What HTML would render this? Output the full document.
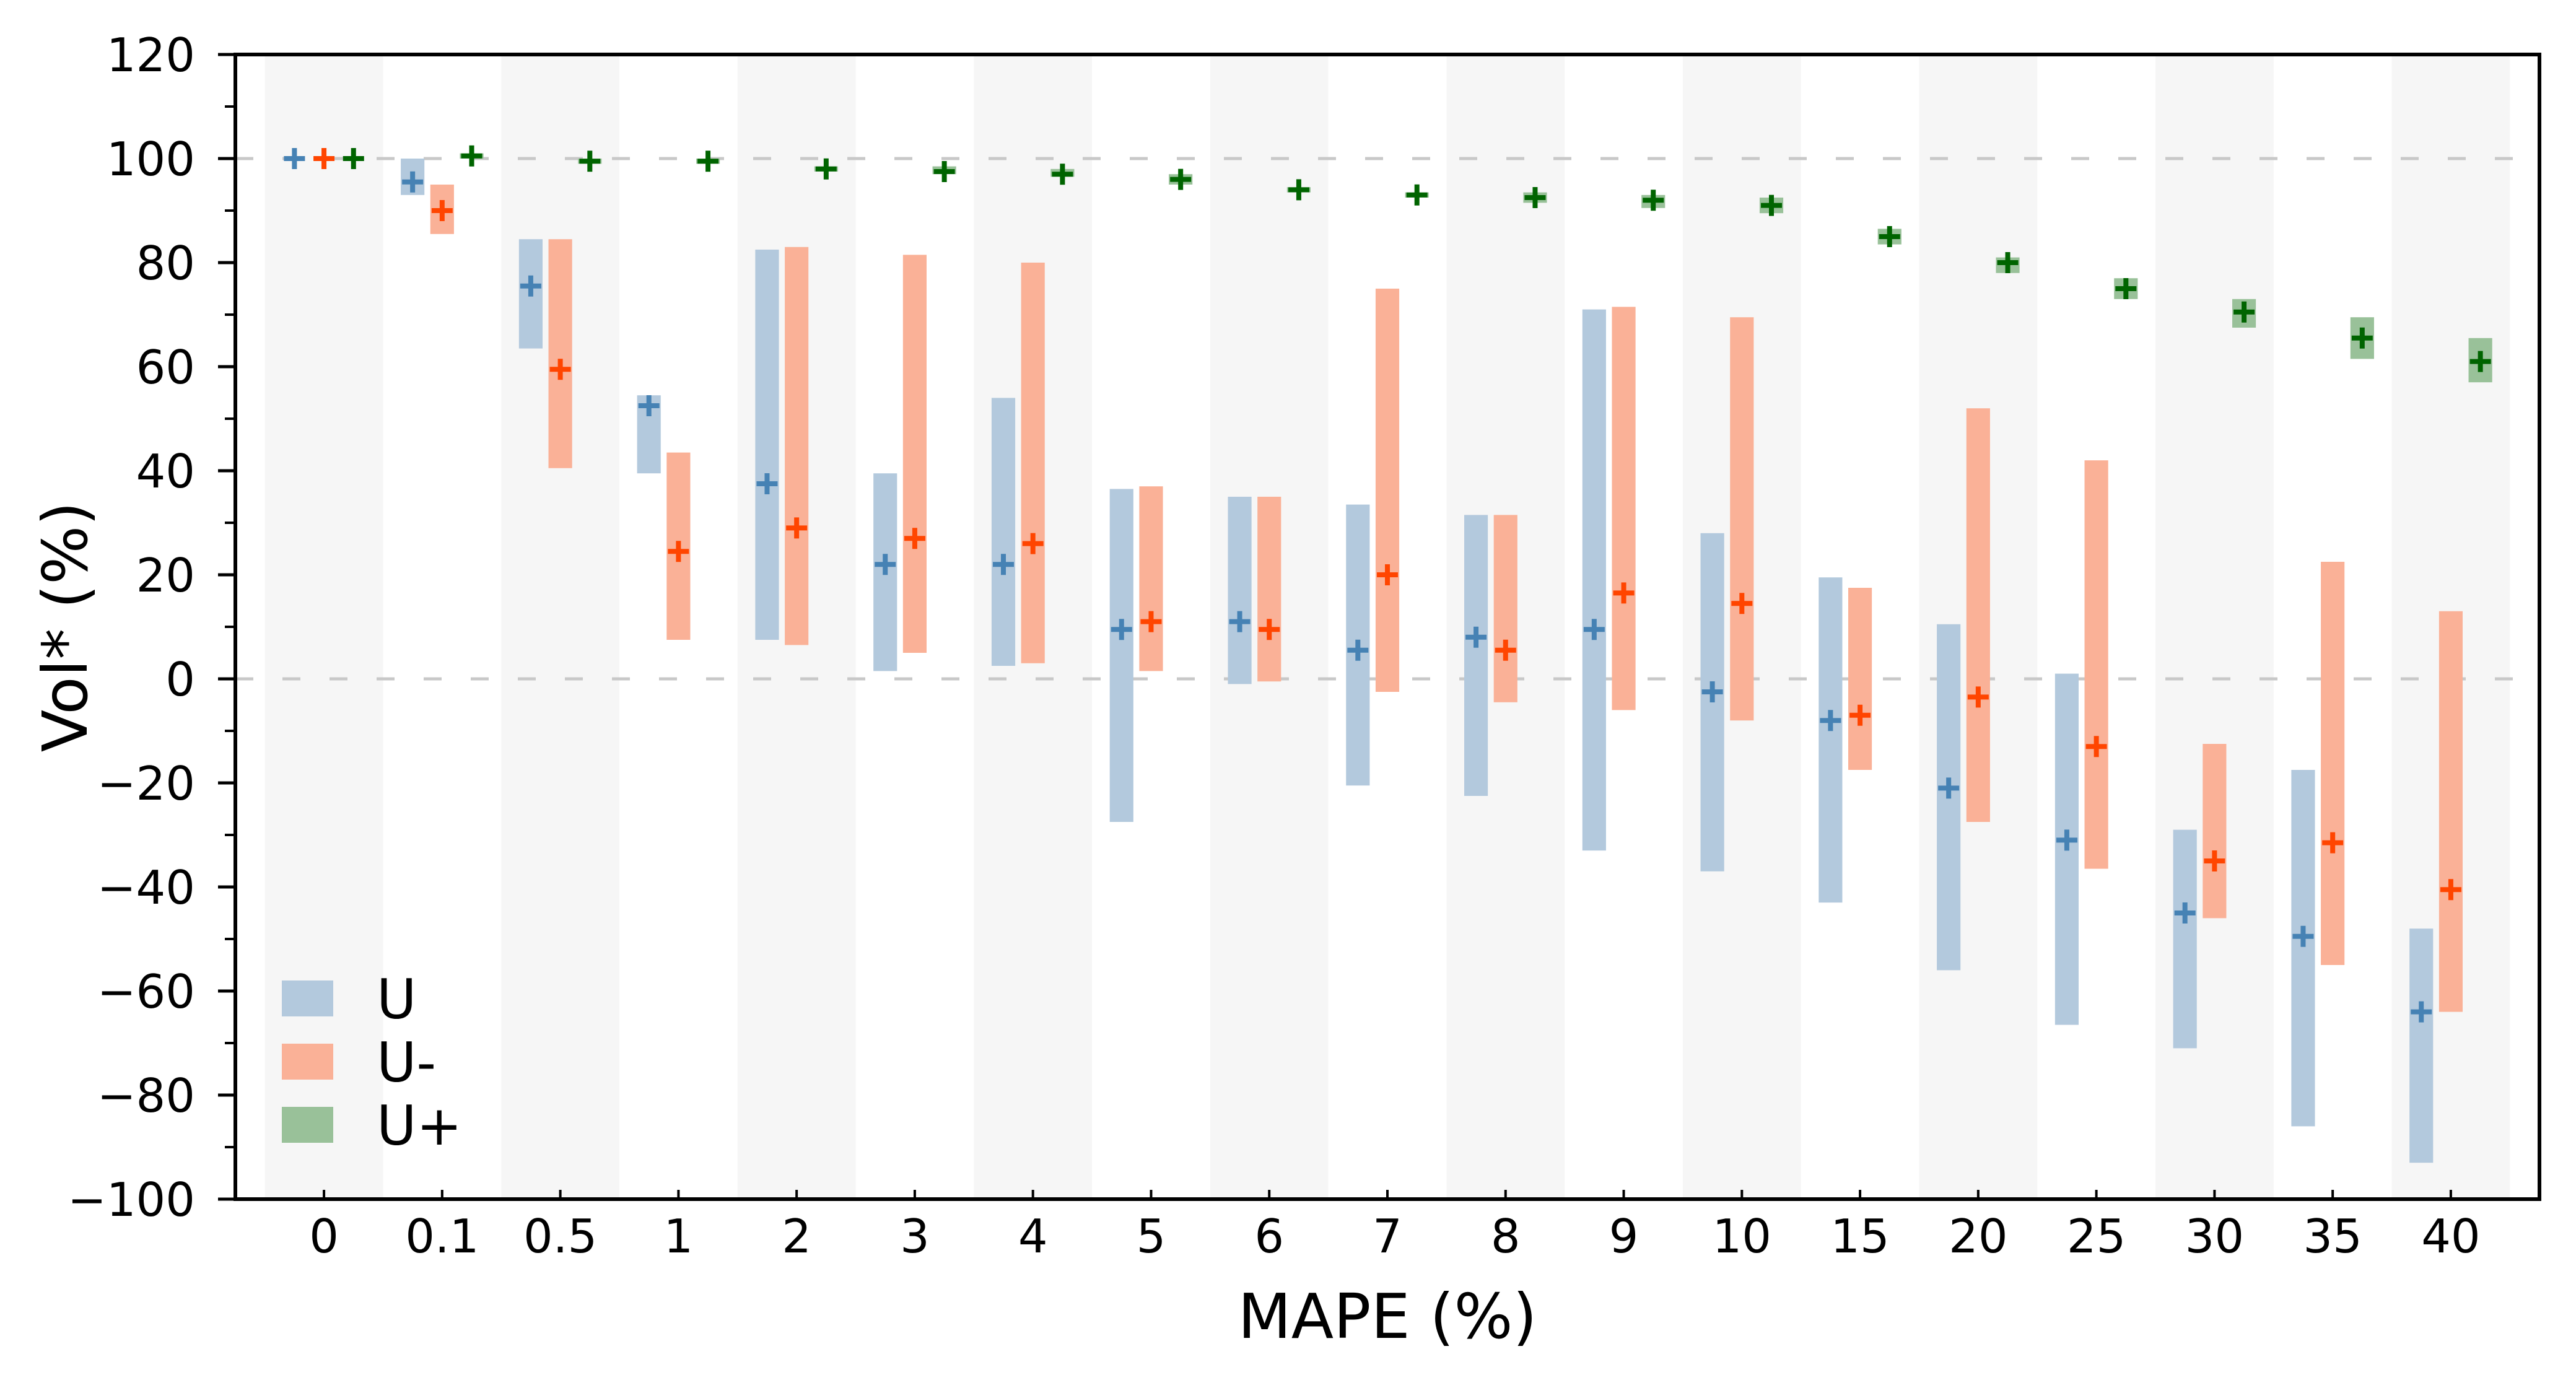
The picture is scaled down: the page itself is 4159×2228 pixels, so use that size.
<!DOCTYPE html>
<html><head><meta charset="utf-8"><style>
html,body{margin:0;padding:0;background:#fff;}
svg{display:block;font-family:"DejaVu Sans","Liberation Sans",sans-serif;}
</style></head><body>
<svg id="chart" width="4159" height="2228" viewBox="0 0 4159 2228" xmlns="http://www.w3.org/2000/svg"></svg>
<script>
const categories = ["0","0.1","0.5","1","2","3","4","5","6","7","8","9","10","15","20","25","30","35","40"];
const uMean = [100,95.5,75.5,52.5,37.5,22,22,9.5,11,5.5,8,9.5,-2.5,-8,-21,-31,-45,-49.5,-64];
const uLow  = [100,93,63.5,39.5,7.5,1.5,2.5,-27.5,-1,-20.5,-22.5,-33,-37,-43,-56,-66.5,-71,-86,-93];
const uHigh = [100,100,84.5,54.5,82.5,39.5,54,36.5,35,33.5,31.5,71,28,19.5,10.5,1,-29,-17.5,-48];
const umMean = [100,90,59.5,24.5,29,27,26,11,9.5,20,5.5,16.5,14.5,-7,-3.5,-13,-35,-31.5,-40.5];
const umLow  = [100,85.5,40.5,7.5,6.5,5,3,1.5,-0.5,-2.5,-4.5,-6,-8,-17.5,-27.5,-36.5,-46,-55,-64];
const umHigh = [100,95,84.5,43.5,83,81.5,80,37,35,75,31.5,71.5,69.5,17.5,52,42,-12.5,22.5,13];
const upMean = [100,100.5,99.5,99.5,98,97.5,97,96,94,93,92.5,92,91,85,80,75,70.5,65.5,61];
const upLow  = [100,100,99,99,97.5,97,96.5,95,93.5,92.5,91.5,90.5,89.5,83.5,78,73,67.5,61.5,57];
const upHigh = [100,101,100,100,98.5,98.5,98,97,94.5,93.5,93.5,93,92.5,86.5,81,77,73,69.5,65.5];
const yTicks = [-100,-80,-60,-40,-20,0,20,40,60,80,100,120];

const NS="http://www.w3.org/2000/svg";
const svg=document.getElementById('chart');
const L=380,R=4100,T=88,B=1936;
const xmin=-0.75,xmax=18.75,ymin=-100,ymax=120;
const xs=v=>L+(v-xmin)/(xmax-xmin)*(R-L);
const ys=v=>B-(v-ymin)/(ymax-ymin)*(B-T);
function mk(tag,attrs,parent){const e=document.createElementNS(NS,tag);for(const k in attrs)e.setAttribute(k,attrs[k]);(parent||svg).appendChild(e);return e;}

categories.forEach((c,i)=>{ if(i%2===0){
  const b=mk('rect',{x:xs(i-0.5),y:T,width:xs(i+0.5)-xs(i-0.5),height:B-T,fill:'#f6f6f6'});
  
  
}});
[0,100].forEach(v=>{
  const g=mk('line',{x1:L,x2:R,y1:ys(v),y2:ys(v),stroke:'#c8c8c8','stroke-width':5,'stroke-dasharray':'29 47'});
  
  
});
const series=[
 {name:'u',mean:uMean,lo:uLow,hi:uHigh,off:-0.25,fill:'#b3c9dd',mark:'#4682b4'},
 {name:'u-minus',mean:umMean,lo:umLow,hi:umHigh,off:0,fill:'#fab197',mark:'#ff4500'},
 {name:'u-plus',mean:upMean,lo:upLow,hi:upHigh,off:0.25,fill:'#99c199',mark:'#006400'}
];
const bw=0.2;
series.forEach(s=>{
  categories.forEach((c,i)=>{
    const x=i+s.off;
    const h=Math.abs(ys(s.lo[i])-ys(s.hi[i]));
    if(h>0.5){
      const r=mk('rect',{x:xs(x-bw/2),y:ys(s.hi[i]),width:xs(x+bw/2)-xs(x-bw/2),height:h,fill:s.fill});
      
      
    }
    const cx=xs(x),cy=ys(s.mean[i]);
    const p=mk('path',{d:`M${cx-17},${cy}H${cx+17}M${cx},${cy-17}V${cy+17}`,stroke:s.mark,'stroke-width':8,fill:'none'});
    
    
  });
});
const fr=mk('rect',{x:L,y:T,width:R-L,height:B-T,fill:'none',stroke:'#000','stroke-width':6});


yTicks.forEach(v=>{
  const t=mk('line',{x1:L-28,x2:L,y1:ys(v),y2:ys(v),stroke:'#000','stroke-width':5});
  
  
  const tx=mk('text',{x:315,y:ys(v)+27,'text-anchor':'end','font-size':75,fill:'#000'});
  tx.textContent=v<0?'\u2212'+Math.abs(v):String(v);
  
  
});
for(let v=-90;v<120;v+=20){
  const t=mk('line',{x1:L-17,x2:L,y1:ys(v),y2:ys(v),stroke:'#000','stroke-width':4});
  
  
}
categories.forEach((c,i)=>{
  const t=mk('line',{x1:xs(i),x2:xs(i),y1:B-15,y2:B,stroke:'#000','stroke-width':4});
  
  
  const tx=mk('text',{x:xs(i),y:2022,'text-anchor':'middle','font-size':75,fill:'#000'});
  tx.textContent=c;
  
  
});
const xl=mk('text',{x:(L+R)/2,y:2160,'text-anchor':'middle','font-size':100,fill:'#000'});
xl.textContent='MAPE (%)';


const yl=mk('text',{x:0,y:0,'text-anchor':'middle','font-size':100,fill:'#000',transform:`translate(140,${(T+B)/2}) rotate(-90)`});
yl.textContent='Vol* (%)';


const legendLabels=['U','U-','U+'];
const legendColors=['#b3c9dd','#fab197','#99c199'];
legendLabels.forEach((lab,i)=>{
  const cy=1612+i*102;
  const sw=mk('rect',{x:455,y:cy-29,width:83,height:58,fill:legendColors[i]});
  
  
  const tx=mk('text',{x:608,y:cy+32,'font-size':88,fill:'#000'});
  tx.textContent=lab;
  
  
});
</script>
</body></html>
